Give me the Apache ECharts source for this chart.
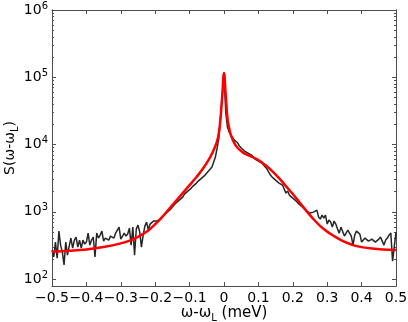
<!DOCTYPE html>
<html>
<head>
<meta charset="utf-8">
<script src="https://cdn.jsdelivr.net/npm/echarts@6/dist/echarts.min.js"></script>
<style>
  html, body { margin: 0; padding: 0; background: #fff; }
  #chart { width: 408px; height: 322px; }
</style>
</head>
<body>
<div id="chart"></div>
<script>
// measured spectrum, one sample every 0.005 meV from -0.5 to 0.5
const measStart = -0.5;
const measStep = 0.005;
const measured = [
  270, 213, 355, 205, 517, 320, 252, 162, 355, 227,
  310, 407, 289, 380, 421, 299, 380, 289, 380, 331,
  355, 483, 320, 380, 421, 213, 483, 407, 451, 517,
  367, 407, 421, 380, 436, 451, 407, 483, 517, 593,
  393, 436, 483, 436, 467, 573, 320, 593, 227, 554,
  635, 500, 299, 451, 614, 704, 535, 658, 704, 729,
  681, 729, 754, 780, 807, 895, 895, 991, 1026, 1099,
  1177, 1218, 1350, 1397, 1496, 1601, 1657, 1836, 1900, 2035,
  2179, 2255, 2415, 2499, 2676, 2866, 2966, 3176, 3401, 3520,
  3770, 3901, 4323, 4630, 5495, 6522, 8876, 12500, 25640, 54460,
  115600, 30430, 18200, 15340, 13850, 12940, 11670, 10900, 10530, 9505,
  8876, 8577, 8009, 8288, 7479, 7227, 6984, 6749, 6090, 6090,
  5687, 5495, 5310, 4958, 4791, 4323, 3901, 3520, 3287, 3176,
  2966, 2866, 2676, 2586, 2499, 2415, 1900, 2035, 1775, 1715,
  1601, 1547, 1446, 1350, 1304, 1218, 1177, 1099, 1026, 991,
  958, 895, 991, 958, 1062, 836, 780, 895, 807, 895,
  658, 754, 704, 593, 729, 658, 554, 483, 593, 554,
  436, 421, 535, 500, 436, 320, 451, 517, 483, 467,
  355, 343, 407, 421, 367, 355, 393, 407, 355, 343,
  393, 421, 367, 320, 380, 407, 451, 483, 185, 179,
  500
];

// fitted curve (red)
const fitX = [
  -0.5, -0.45, -0.4, -0.35, -0.3, -0.27, -0.25, -0.22, -0.2, -0.18,
  -0.16, -0.14, -0.12, -0.1, -0.08, -0.06, -0.04, -0.03, -0.02, -0.015,
  -0.01, -0.005, 0, 0.005, 0.01, 0.015, 0.02, 0.03, 0.04, 0.05,
  0.06, 0.08, 0.1, 0.12, 0.14, 0.16, 0.18, 0.2, 0.22, 0.24,
  0.26, 0.28, 0.3, 0.32, 0.34, 0.36, 0.38, 0.4, 0.43, 0.46, 0.5
];
const fitY = [
  256, 264, 276, 300, 340, 380, 425, 530, 655, 836,
  1099, 1446, 1901, 2500, 3287, 4477, 6522, 8288, 11270, 14830,
  24780, 54460, 115600, 54460, 24780, 17580, 13840, 10520, 8870, 8000,
  7340, 6630, 5885, 4958, 4040, 3177, 2416, 1837, 1374, 1026,
  780, 614, 508, 436, 380, 343, 315, 299, 284, 275, 270
];

const yMin = 79;
const yMax = 1000000;
const yMajor = [100, 1000, 10000, 100000, 1000000];
const yMinor = [
  200, 300, 400, 500, 600, 700, 800, 900,
  2000, 3000, 4000, 5000, 6000, 7000, 8000, 9000,
  20000, 30000, 40000, 50000, 60000, 70000, 80000, 90000,
  200000, 300000, 400000, 500000, 600000, 700000, 800000, 900000
];

const FONT = 'DejaVu Sans';
const AXIS_COLOR = '#4d4d4d';

const chart = echarts.init(document.getElementById('chart'));

function logAxis(position, ticks, len, withLabels) {
  return {
    type: 'log',
    logBase: 10,
    position: position,
    min: yMin,
    max: yMax,
    axisLine: { show: true, onZero: false, lineStyle: { color: AXIS_COLOR, width: 1 } },
    axisTick: {
      show: true, inside: true, length: len, customValues: ticks,
      lineStyle: { color: AXIS_COLOR, width: 1 }
    },
    axisLabel: withLabels ? {
      show: true,
      margin: 4,
      customValues: yMajor,
      formatter: function (v) {
        return '{b|10}{sup|' + Math.round(Math.log10(v)) + '}';
      },
      rich: {
        b: { fontFamily: FONT, fontSize: 14, color: '#000', lineHeight: 18 },
        sup: { fontFamily: FONT, fontSize: 10, color: '#000', lineHeight: 10, verticalAlign: 'top' }
      }
    } : { show: false },
    splitLine: { show: false },
    minorTick: { show: false }
  };
}

const yLeft = logAxis('left', yMajor, 4, true);
yLeft.name = '{a|S(ω-ω}{s|L}{a|)}';
yLeft.nameLocation = 'middle';
yLeft.nameGap = 32;
yLeft.nameMoveOverlap = false;
yLeft.nameTextStyle = {
  rich: {
    a: { fontFamily: FONT, fontSize: 14, color: '#000', lineHeight: 20 },
    s: { fontFamily: FONT, fontSize: 10, color: '#000', lineHeight: 10, verticalAlign: 'bottom' }
  }
};

chart.setOption({
  animation: false,
  backgroundColor: '#fff',
  grid: { left: 52, right: 12, top: 10, bottom: 36, containLabel: false, outerBoundsMode: 'none' },
  xAxis: [
    {
      type: 'value',
      position: 'bottom',
      min: -0.5,
      max: 0.5,
      interval: 0.1,
      axisLine: { onZero: false, lineStyle: { color: AXIS_COLOR, width: 1 } },
      axisTick: { inside: true, length: 4, lineStyle: { color: AXIS_COLOR } },
      axisLabel: {
        margin: 5,
        fontFamily: FONT,
        fontSize: 14,
        color: '#000',
        formatter: function (v) {
          if (Math.abs(v) < 1e-9) return '0';
          return (v < 0 ? '\u2212' : '') + Math.abs(v).toFixed(1);
        }
      },
      splitLine: { show: false },
      name: '{a|ω-ω}{s|L}{a| (meV)}',
      nameLocation: 'middle',
      nameGap: 17,
      nameMoveOverlap: false,
      nameTextStyle: {
        rich: {
          a: { fontFamily: FONT, fontSize: 15, color: '#000', lineHeight: 20 },
          s: { fontFamily: FONT, fontSize: 10, color: '#000', lineHeight: 10, verticalAlign: 'bottom' }
        }
      }
    },
    {
      type: 'value',
      position: 'top',
      min: -0.5,
      max: 0.5,
      interval: 0.1,
      axisLine: { onZero: false, lineStyle: { color: AXIS_COLOR, width: 1 } },
      axisTick: { inside: true, length: 4, lineStyle: { color: AXIS_COLOR } },
      axisLabel: { show: false },
      splitLine: { show: false }
    }
  ],
  yAxis: [
    yLeft,
    logAxis('left', yMinor, 2, false),
    logAxis('right', yMajor, 4, false),
    logAxis('right', yMinor, 2, false)
  ],
  series: [
    {
      name: 'measured',
      type: 'line',
      xAxisIndex: 0,
      yAxisIndex: 0,
      showSymbol: false,
      data: measured.map((v, i) => [measStart + i * measStep, v]),
      lineStyle: { color: '#262626', width: 1.5 }
    },
    {
      name: 'fit',
      type: 'line',
      xAxisIndex: 0,
      yAxisIndex: 0,
      showSymbol: false,
      smooth: 0.4,
      data: fitX.map((x, i) => [x, fitY[i]]),
      lineStyle: { color: '#ff0000', width: 2.5 }
    }
  ]
});
</script>
</body>
</html>
